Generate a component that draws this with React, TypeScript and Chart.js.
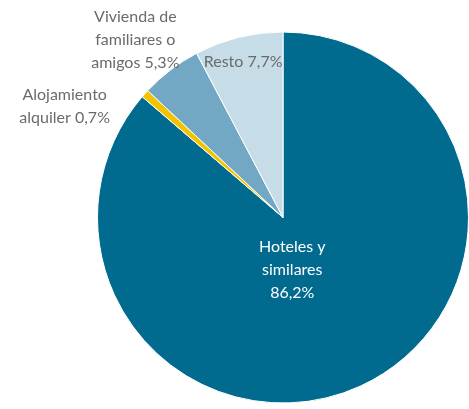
import React, { useEffect, useRef } from "react";
import { Chart, registerables } from "chart.js";

Chart.register(...registerables);

const categories = ["Hoteles y similares", "Alojamiento alquiler", "Vivienda de familiares o amigos", "Resto"];
const values = [86.2, 0.7, 5.3, 7.7];
const labelLines = [
  ["Hoteles y", "similares", "86,2%"],
  ["Alojamiento", "alquiler 0,7%"],
  ["Vivienda de", "familiares o", "amigos 5,3%"],
  ["Resto 7,7%"],
];
const colors = ["#006a8f", "#f2c300", "#72a8c3", "#c6dce6"];

// label anchors relative to pie centre, in units of radius
const anchors = [
  [0.05, 0.28],
  [-1.177, -0.6],
  [-0.796, -0.957],
  [-0.215, -0.839],
];
const textColors = ["#ffffff", "#6b6b6b", "#6b6b6b", "#6b6b6b"];

const labelPlugin = {
  id: "sliceLabels",
  afterDatasetsDraw(chart: any) {
    const meta = chart.getDatasetMeta(0);
    const ctx = chart.ctx;
    ctx.save();
    ctx.font = "16px Lato";
    ctx.textAlign = "center";
    ctx.textBaseline = "middle";
    meta.data.forEach((arc: any, i: number) => {
      const { x, y, outerRadius } = arc.getProps(["x", "y", "outerRadius"], true);
      const lines = labelLines[i];
      const lh = 23;
      const cx = x + anchors[i][0] * outerRadius;
      const cy = y + anchors[i][1] * outerRadius;
      ctx.fillStyle = textColors[i];
      lines.forEach((t, j) => {
        ctx.fillText(t, cx, cy + (j - (lines.length - 1) / 2) * lh);
      });
    });
    ctx.restore();
  },
};

export default function App() {
  const ref = useRef<HTMLCanvasElement>(null);
  useEffect(() => {
    document.body.style.margin = "0";
    const chart = new Chart(ref.current!, {
      type: "pie",
      data: {
        labels: categories,
        datasets: [
          {
            data: values,
            backgroundColor: colors,
            borderColor: "#ffffff",
            borderWidth: 1,
          },
        ],
      },
      options: {
        animation: false,
        responsive: false,
        maintainAspectRatio: false,
        layout: { padding: { top: 31, bottom: 5, left: 97, right: 0 } },
        plugins: { legend: { display: false }, tooltip: { enabled: false } },
      },
      plugins: [labelPlugin],
    });
    return () => chart.destroy();
  }, []);
  return (
    <div style={{ position: "fixed", left: 0, top: 0, width: 469, height: 409, background: "#fff" }}>
      <canvas ref={ref} width={469} height={409} style={{ width: 469, height: 409 }} />
    </div>
  );
}
